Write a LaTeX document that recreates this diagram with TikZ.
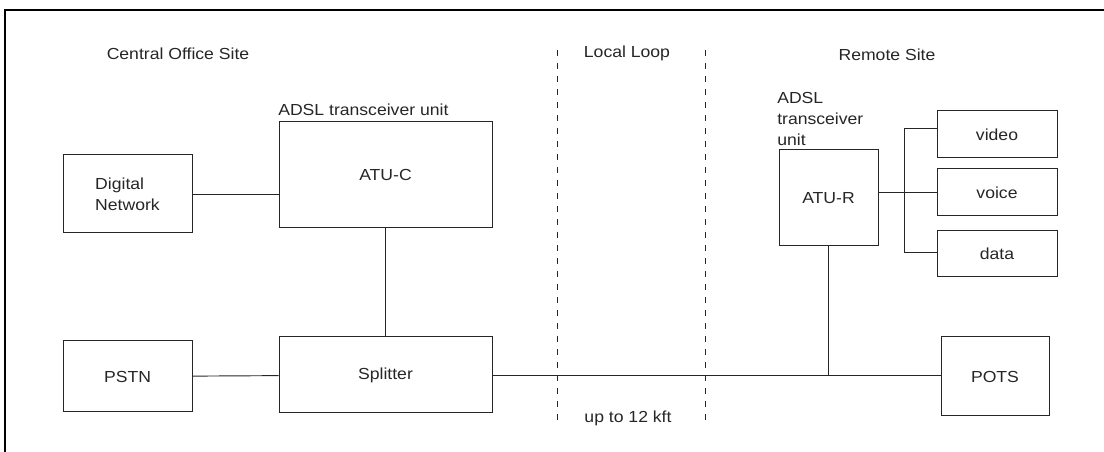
\documentclass[tikz,border=0pt]{standalone}
\usepackage{fontspec}
\setmainfont{Liberation Sans}[FakeStretch=1.1]
\usetikzlibrary{positioning}
\definecolor{ink}{gray}{0.15}
\newcommand{\px}{0.75pt}
\begin{document}
\begin{tikzpicture}[x=0.75pt, y=-0.75pt, font=\fontsize{12}{15.5}\selectfont, text=ink,
                        unit/.style={shape=rectangle, draw=ink, line width=0.75pt, inner sep=0pt},
                        wire/.style={draw=black!85, line width=0.7pt},
                        border/.style={dash pattern=on 4.5pt off 5.25pt, line width=0.7pt, draw=ink}]
        \useasboundingbox (0,0) rectangle (1104,452);
        \draw[line width=1.9pt] (1104,10) -- (5,10) -- (5,452);
        % site headings
        \node (co) at (178,54) {Central Office Site};
        \node (loop) at (627,53) {Local Loop};
        \node (remote) at (887,55) {Remote Site};
        \node (len) at (628,418) {up to 12 kft};
        \coordinate (b1t) at (557,50);
        \coordinate (b1b) at (557,422);
        \coordinate (b2t) at (705,50);
        \coordinate (b2b) at (705,422);
        \draw[border] (b1t) -- (b1b);
        \draw[border] (b2t) -- (b2b);
        % central office
        \node[unit, minimum width=129*\px, minimum height=78*\px, align=left] (dnet) at (127.5,194) {Digital\\Network};
        \node[unit, minimum width=213*\px, minimum height=106*\px] (atuc) at (385.5,175) {ATU-C};
        \node[anchor=west, inner sep=0pt] (atuclab) at (278,110) {ADSL transceiver unit};
        \node[unit, minimum width=129*\px, minimum height=71*\px] (pstn) at (127.5,376.5) {PSTN};
        \node[unit, minimum width=213*\px, minimum height=76*\px] (split) at (385.5,375) {Splitter};
        % remote site
        \node[unit, minimum width=99*\px, minimum height=96*\px] (atur) at (828.5,198) {ATU-R};
        \node[anchor=west, inner sep=0pt, align=left] (aturlab) at (777,119) {ADSL\\transceiver\\unit};
        \node[unit, minimum width=120*\px, minimum height=47*\px] (video) at (997,134.5) {video};
        \node[unit, minimum width=120*\px, minimum height=47*\px] (voice) at (997,192.5) {voice};
        \node[unit, minimum width=120*\px, minimum height=46*\px] (data) at (997,254) {data};
        \node[unit, minimum width=108*\px, minimum height=79*\px] (pots) at (995,376.5) {POTS};
        \coordinate (bustop) at (904,128);
        \coordinate (busbot) at (904,252);
        \coordinate (tap) at (atur.south |- split.east);
        % wiring
        \draw[wire] (dnet.east) -- (dnet.east -| atuc.west);
        \draw[wire] (atuc) -- (split);
        \draw[wire] (pstn) -- (split);
        \draw[wire] (split.east) -- (split.east -| pots.west);
        \draw[wire] (atur) -- (tap);
        \draw[wire] (voice.west -| atur.east) -- (voice.west);
        \draw[wire] (video.west |- bustop) -- (bustop) -- (busbot) -- (data.west |- busbot);
    \end{tikzpicture}
\end{document}
